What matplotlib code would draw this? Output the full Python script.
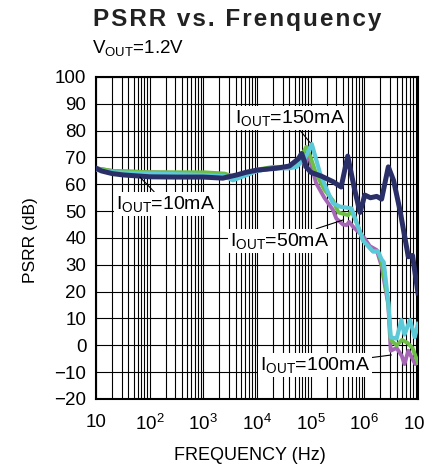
import numpy as np
import matplotlib
matplotlib.use("Agg")
import matplotlib.pyplot as plt
from matplotlib.ticker import FixedLocator, NullFormatter

plt.rcParams['font.family'] = ['Liberation Sans', 'DejaVu Sans']
plt.rcParams['mathtext.fontset'] = 'custom'
plt.rcParams['mathtext.rm'] = 'Liberation Sans'
plt.rcParams['mathtext.it'] = 'Liberation Sans'
plt.rcParams['mathtext.default'] = 'regular'

# 读数据 (Hz, dB)
navy_f = [10, 12.6, 20, 32, 100, 316, 1000, 2300, 4200, 6300, 1e4, 2.3e4, 4e4, 5.9e4, 6.8e4, 8.3e4,
          1e5, 1.6e5, 2.6e5, 3.7e5, 4.9e5, 6.6e5, 8.3e5, 1.02e6, 1.3e6, 1.7e6, 2.1e6, 2.8e6, 3.5e6,
          4.6e6, 6.6e6, 7.9e6, 1e7]
navy_db = [66, 65, 64, 63.5, 62.8, 62.7, 62.7, 62.3, 63.5, 64.5, 65.3, 66, 66.8, 69.5, 71.5, 66.5,
           64.5, 63, 61, 59, 70.5, 58, 49.5, 56, 55, 55.5, 54.5, 66.5, 61.5,
           50.5, 33, 33.5, 19.5]

cyan_f = [10, 20, 100, 1000, 2500, 3550, 5600, 1e4, 2e4, 4e4, 5.5e4, 7.9e4, 1.05e5, 1.5e5, 2e5,
          2.6e5, 3.5e5, 5.8e5, 6.2e5, 7.1e5, 9.5e5, 1.45e6, 1.8e6, 2.1e6, 2.3e6, 2.8e6, 3.1e6,
          4e6, 4.9e6, 5.6e6, 7.1e6, 8.7e6, 1e7]
cyan_db = [65.5, 64.5, 64, 63.5, 63, 61.5, 63, 65, 66, 66, 66.5, 70, 75, 64, 58,
           53, 51.7, 51, 49.3, 46, 39, 35, 35, 32, 31, 16, 3,
           2.5, 9.4, 4, 9.4, 3, 8]

green_f = [10, 20, 100, 1000, 2500, 3550, 6300, 1e4, 2e4, 4e4, 5.6e4, 8.3e4, 1e5, 1.26e5, 1.8e5,
           2.6e5, 3.3e5, 5e5, 5.8e5, 7.1e5, 9.5e5, 1.45e6, 1.8e6, 2.1e6, 2.8e6, 3.1e6, 4e6, 5e6,
           6.3e6, 7.9e6, 1e7]
green_db = [66, 65, 64.5, 64.5, 64, 63, 64, 65.5, 66.5, 66.5, 67.5, 74, 70, 64, 58,
            54, 49.5, 48.5, 50, 46, 39, 35, 35, 31, 16, 2, 0, 2,
            1, -1, -6.5]

purple_f = [10, 20, 100, 1000, 2500, 3550, 6300, 1e4, 2e4, 4e4, 5.6e4, 7.1e4, 7.8e4, 8.9e4, 1e5,
            1.26e5, 1.8e5, 2.6e5, 3e5, 4e5, 4.7e5, 5.2e5, 6.3e5, 8.3e5, 1e6, 1.26e6, 1.7e6, 2.1e6,
            2.8e6, 3.1e6, 4e6, 5e6, 5.6e6, 6.6e6, 7.9e6, 8.9e6, 1e7]
purple_db = [66, 65, 64.5, 64, 63.5, 62.5, 63.5, 65, 66, 66, 67, 70, 66.5, 72, 68,
             60.5, 55, 50.5, 47.3, 45, 44.8, 46, 44, 41.7, 40, 37, 35.5, 29.5,
             15, -2, -1, -4, -7, -2, -5, -7, -6]

x_ticks = [10, 1e2, 1e3, 1e4, 1e5, 1e6, 1e7]
x_labels = ['10', '10$^{2}$', '10$^{3}$', '10$^{4}$', '10$^{5}$', '10$^{6}$', '10$^{7}$']
y_ticks = list(range(-20, 101, 10))
# 每个十倍频内的 2..9 网格线
x_minor = [d * m for d in x_ticks[:-1] for m in range(2, 10)]

fig = plt.figure(figsize=(4.25, 4.7), dpi=100)
ax = fig.add_axes([0.2259, 0.1511, 0.7576, 0.6851])

ax.plot(purple_f, purple_db, color='#A567B5', lw=2.8, zorder=3)
ax.plot(green_f, green_db, color='#6DBE45', lw=2.8, zorder=4)
ax.plot(cyan_f, cyan_db, color='#5CC9D8', lw=3.0, zorder=5)
ax.plot(navy_f, navy_db, color='#2A2F68', lw=3.6, zorder=6)

ax.set_xscale('log')
ax.set_xlim(10, 1e7)
ax.set_ylim(-20, 100)
ax.xaxis.set_major_locator(FixedLocator(x_ticks))
ax.xaxis.set_minor_locator(FixedLocator(x_minor))
ax.xaxis.set_minor_formatter(NullFormatter())
ax.set_xticklabels(x_labels)
ax.set_yticks(y_ticks)
ax.grid(True, which='both', axis='x', color='black', lw=0.8)
ax.grid(True, which='major', axis='y', color='black', lw=0.8)
ax.tick_params(which='both', length=0)
ax.tick_params(axis='x', pad=11, labelsize=13.5)
ax.tick_params(axis='y', pad=7, labelsize=13.5)
for s in ax.spines.values():
    s.set_linewidth(1.5)

# 标注
box = dict(facecolor='white', edgecolor='none', pad=1.5)
arrow = dict(arrowstyle='-', color='black', lw=0.8, shrinkA=0, shrinkB=0)
notes = [
    (r'I$_{OUT}$=150mA', (9.8e4, 75.5), (4.1e4, 84.7)),
    (r'I$_{OUT}$=10mA', (66, 62.7), (200, 52.7)),
    (r'I$_{OUT}$=50mA', (4e5, 46.7), (2.6e4, 38.9)),
    (r'I$_{OUT}$=100mA', (3.2e6, -3.6), (1.2e5, -7.3)),
]
for txt, xy, xyt in notes:
    ax.annotate(txt, xy=xy, xytext=xyt, ha='center', va='center', fontsize=14,
                bbox=box, arrowprops=arrow, zorder=8)

title = '\u200a'.join('PSRR vs. Frenquency')
fig.text(0.219, 1 - 26 / 470, title, fontsize=17.5, fontweight='bold',
         va='baseline', ha='left', color='#222222')
fig.text(0.217, 1 - 53 / 470, r'V$_{OUT}$=1.2V', fontsize=13.5, va='baseline', ha='left')
fig.text(30 / 425, 1 - 240 / 470, 'PSRR (dB)', rotation=90, fontsize=12.5, va='center', ha='center')
fig.text(250 / 425, 1 - 455 / 470, 'FREQUENCY (Hz)', fontsize=13, va='center', ha='center')

fig.savefig('out.png', dpi=100)
